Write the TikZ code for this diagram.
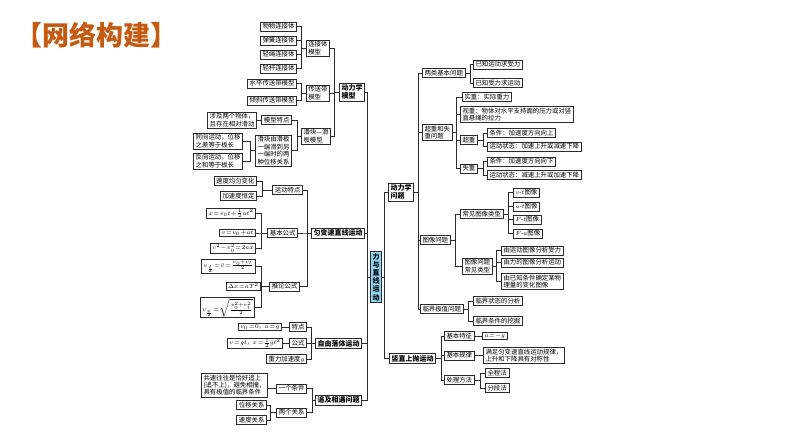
\documentclass[tikz,border=0pt]{standalone}
\usepackage{fontspec}
\newfontfamily\cjk{Noto Sans CJK SC}
\newcommand\tightmath{\medmuskip=1mu\thickmuskip=1.5mu\relax}
\definecolor{ink}{HTML}{2B2B2B}
\definecolor{titleorange}{HTML}{C55A11}
\definecolor{skyfill}{HTML}{8ED3F2}

\begin{document}
\begin{tikzpicture}[x=1pt,y=-1pt,
  box/.style={draw=ink,line width=0.6pt,fill=white,inner xsep=2.2pt,inner ysep=1.5pt,
    align=left,font=\cjk\fontsize{6.4}{7.4}\selectfont},
  lbox/.style={box,anchor=east},
  rbox/.style={box,anchor=west},
  formula/.style={inner ysep=1pt,font=\cjk\fontsize{6}{7}\selectfont\tightmath},
  topic/.style={font=\cjk\bfseries\fontsize{7}{8.2}\selectfont},
  link/.style={draw=ink,line width=0.6pt}]
  \useasboundingbox (0,0) rectangle (794,447);
  % title
  \node[font=\cjk\bfseries\fontsize{27}{30}\selectfont,text=titleorange] (title) at (96,35) {【网络构建】};
  % centre and main topics
  \node[box,topic,fill=skyfill,align=center,inner xsep=1.8pt] (core) at (376,277) {力\\与\\直\\线\\运\\动};
  \node[lbox,topic] (dlmx) at (365,92) {动力学\\模型};
  \node[lbox,topic] (ybs) at (365,233) {匀变速直线运动};
  \node[lbox,topic] (zyl) at (362,343.5) {自由落体运动};
  \node[lbox,topic] (zjxy) at (362,400) {追及相遇问题};
  \node[rbox,topic] (dlwt) at (388,192) {动力学\\问题};
  \node[rbox,topic] (szsp) at (389,358.5) {竖直上抛运动};
  \foreach \n in {dlmx,ybs,zyl,zjxy} \draw[link] (core.west) -- ++(-3,0) |- (\n.east);
  \foreach \n in {dlwt,szsp} \draw[link] (core.east) -- ++(3,0) |- (\n.west);

  % dynamics models
  \node[lbox] (ljt) at (330,48) {连接体\\模型};
  \node[lbox] (csd) at (330,93) {传送带\\模型};
  \node[lbox] (hkhb) at (331,136) {滑块—滑\\板模型};
  \node[lbox] (wwlj) at (297,26.5) {物物连接体};
  \node[lbox] (thlj) at (297,40.5) {弹簧连接体};
  \node[lbox] (qslj) at (297,54.5) {轻绳连接体};
  \node[lbox] (qglj) at (297,68.5) {轻杆连接体};
  \node[lbox] (spcs) at (297,83.5) {水平传送带模型};
  \node[lbox] (qxcs) at (297,100.5) {倾斜传送带模型};
  \node[lbox] (mxtd) at (292,120) {模型特点};
  \node[lbox] (wygx) at (292,150.5) {滑块由滑板\\一端滑到另\\一端时的两\\种位移关系};
  \node[lbox] (xdhd) at (257,120) {涉及两个物体，\\且存在相对滑动};
  \node[lbox] (txyd) at (243,141) {同向运动，位移\\之差等于板长};
  \node[lbox] (fxyd) at (243,161) {反向运动，位移\\之和等于板长};
  \foreach \n in {ljt,csd,hkhb} \draw[link] (dlmx.west) -- ++(-5,0) |- (\n.east);
  \foreach \n in {wwlj,thlj,qslj,qglj} \draw[link] (ljt.west) -- ++(-5,0) |- (\n.east);
  \foreach \n in {spcs,qxcs} \draw[link] (csd.west) -- ++(-5,0) |- (\n.east);
  \foreach \n in {mxtd,wygx} \draw[link] (hkhb.west) -- ++(-4,0) |- (\n.east);
  \draw[link] (mxtd.west) -- (mxtd.west -| xdhd.east);
  \foreach \n in {txyd,fxyd} \draw[link] (wygx.west) -- ++(-5,0) |- (\n.east);

  % uniformly accelerated motion
  \node[lbox] (ydtd) at (303,190) {运动特点};
  \node[lbox] (jbgs) at (298,233) {基本公式};
  \node[lbox] (tlgs) at (300,286.5) {推论公式};
  \node[lbox] (sdjy) at (257,181) {速度均匀变化};
  \node[lbox] (jsdh) at (257,196) {加速度恒定};
  \node[lbox,formula] (wygs) at (256,213.5) {$x=v_0t+\frac{1}{2}at^2$};
  \node[lbox,formula] (sdgs) at (256,233) {$v=v_0+at$};
  \node[lbox,formula] (sdwy) at (256,248) {$v^2-v_0^2=2ax$};
  \node[lbox,formula] (zssd) at (256,266.5) {$v_{\frac{t}{2}}=\bar{v}=\frac{v_0+v_t}{2}$};
  \node[lbox,formula] (zcgs) at (261,286) {$\Delta x=aT^2$};
  \node[lbox,formula] (zwsd) at (255,307.5) {$v_{\frac{x}{2}}=\sqrt{\frac{v_0^2+v_t^2}{2}}$};
  \foreach \n in {ydtd,jbgs,tlgs} \draw[link] (ybs.west) -- ++(-4,0) |- (\n.east);
  \foreach \n in {sdjy,jsdh} \draw[link] (ydtd.west) -- ++(-10,0) |- (\n.east);
  \foreach \n in {wygs,sdgs,sdwy} \draw[link] (jbgs.west) -- ++(-6,0) |- (\n.east);
  \foreach \n in {zssd,zcgs,zwsd} \draw[link] (tlgs.west) -- ++(-8,0) |- (\n.east);

  % free fall
  \node[lbox] (tedian) at (307,327) {特点};
  \node[lbox] (gongshi) at (307,343) {公式};
  \node[lbox] (zljs) at (307,359) {重力加速度$g$};
  \node[lbox,formula] (csja) at (282,327) {$v_0=0$，$a=g$};
  \node[lbox,formula] (zygs) at (283,343) {$v=gt$，$x=\frac{1}{2}gt^2$};
  \foreach \n in {tedian,gongshi,zljs} \draw[link] (zyl.west) -- ++(-4,0) |- (\n.east);
  \draw[link] (tedian.west) -- (tedian.west -| csja.east);
  \draw[link] (gongshi.west) -- (gongshi.west -| zygs.east);

  % pursuit and meeting
  \node[lbox] (ygtj) at (307,388.5) {一个条件};
  \node[lbox] (lggx) at (307,412.5) {两个关系};
  \node[lbox] (gstj) at (268,385) {共速往往是恰好追上\\(追不上)，避免相撞，\\具有极值的临界条件};
  \node[lbox] (wyrel) at (267,405) {位移关系};
  \node[lbox] (sdrel) at (267,420) {速度关系};
  \foreach \n in {ygtj,lggx} \draw[link] (zjxy.west) -- ++(-3,0) |- (\n.east);
  \draw[link] (ygtj.west) -- (ygtj.west -| gstj.east);
  \foreach \n in {wyrel,sdrel} \draw[link] (lggx.west) -- ++(-6,0) |- (\n.east);

  % dynamics problems
  \node[rbox] (llwt) at (422,73) {两类基本问题};
  \node[rbox] (czsz) at (422,132.5) {超重和失\\重问题};
  \node[rbox] (txwt) at (420,240) {图像问题};
  \node[rbox] (ljwt) at (420,309) {临界极值问题};
  \foreach \n in {llwt,czsz,txwt,ljwt} \draw[link] (dlwt.east) -- ++(4,0) |- (\n.west);
  \node[rbox] (yzyd) at (473,64.5) {已知运动求受力};
  \node[rbox] (yzsl) at (473,83) {已知受力求运动};
  \foreach \n in {yzyd,yzsl} \draw[link] (llwt.east) -- ++(5,0) |- (\n.west);
  \node[rbox] (shizhong) at (462,97) {实重：实际重力};
  \node[rbox] (shizhong2) at (460,114.5) {视重：物体对水平支持面的压力或对竖\\直悬绳的拉力};
  \node[rbox] (chaoz) at (460,140) {超重};
  \node[rbox] (shiz) at (460,168.5) {失重};
  \foreach \n in {shizhong,shizhong2,chaoz,shiz} \draw[link] (czsz.east) -- ++(4,0) |- (\n.west);
  \node[rbox] (czt) at (487,133) {条件：加速度方向向上};
  \node[rbox] (czz) at (487,146.5) {运动状态：加速上升或减速下降};
  \node[rbox] (szt) at (487,161.5) {条件：加速度方向向下};
  \node[rbox] (szz) at (487,175) {运动状态：减速上升或加速下降};
  \foreach \n in {czt,czz} \draw[link] (chaoz.east) -- ++(5,0) |- (\n.west);
  \foreach \n in {szt,szz} \draw[link] (shiz.east) -- ++(5,0) |- (\n.west);
  \node[rbox] (cjlx) at (460,214) {常见图像类型};
  \node[rbox] (txlx) at (462,266) {图像问题\\常见类型};
  \foreach \n in {cjlx,txlx} \draw[link] (txwt.east) -- ++(5,0) |- (\n.west);
  \node[rbox] (vtimg) at (513,192.5) {$v$-$t$图像};
  \node[rbox] (atimg) at (513,206.5) {$a$-$t$图像};
  \node[rbox] (ftimg) at (513,219.5) {$F$-$t$图像};
  \node[rbox] (faimg) at (513,233.5) {$F$-$a$图像};
  \foreach \n in {vtimg,atimg,ftimg,faimg} \draw[link] (cjlx.east) -- ++(5,0) |- (\n.west);
  \node[rbox] (ydfx) at (501,250.5) {由运动图像分析受力};
  \node[rbox] (llfx) at (501,262.5) {由力的图像分析运动};
  \node[rbox] (yzbh) at (501,281.5) {由已知条件确定某物\\理量的变化图像};
  \foreach \n in {ydfx,llfx,yzbh} \draw[link] (txlx.east) -- ++(4,0) |- (\n.west);
  \node[rbox] (ljfx) at (473,301) {临界状态的分析};
  \node[rbox] (ljwj) at (473,321) {临界条件的挖掘};
  \foreach \n in {ljfx,ljwj} \draw[link] (ljwt.east) -- ++(5,0) |- (\n.west);

  % vertical throw
  \node[rbox] (jbtz) at (444,336) {基本特征};
  \node[rbox] (jbgl) at (444,355.5) {基本规律};
  \node[rbox] (clff) at (444,380) {处理方法};
  \foreach \n in {jbtz,jbgl,clff} \draw[link] (szsp.east) -- ++(5,0) |- (\n.west);
  \node[rbox,formula] (amg) at (482,336) {$a=-g$};
  \node[rbox] (dcx) at (483,355.5) {满足匀变速直线运动规律，\\上升和下降具有对称性};
  \node[rbox] (qcf) at (485,373) {全程法};
  \node[rbox] (fdf) at (485,388) {分段法};
  \draw[link] (jbtz.east) -- (jbtz.east -| amg.west);
  \draw[link] (jbgl.east) -- (jbgl.east -| dcx.west);
  \foreach \n in {qcf,fdf} \draw[link] (clff.east) -- ++(6,0) |- (\n.west);
\end{tikzpicture}
\end{document}
